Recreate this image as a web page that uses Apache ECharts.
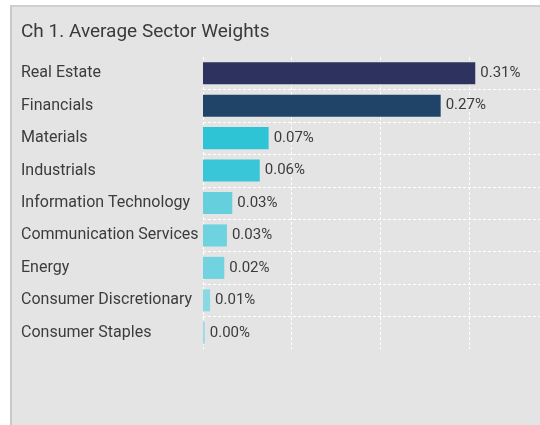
<!DOCTYPE html>
<html>
<head>
    <meta charset="utf-8">
    <title>Average Sector Weights</title>
    <script src="https://cdn.jsdelivr.net/npm/echarts@6/dist/echarts.min.js"></script>
    <style>
        html, body { margin: 0; padding: 0; background: #fff; }
        #panel {
            position: absolute; left: 10px; top: 5px; width: 560px; height: 440px;
            background: #e4e4e4; border-left: 2px solid #c8c8c8; border-top: 2px solid #cfcfcf;
        }
        #main { position: absolute; left: 0; top: 0; width: 540px; height: 425px; }
    </style>
</head>
<body>
    <div id="panel"></div>
    <div id="main"></div>

    <script type="text/javascript">
        var sectors = ['Real Estate', 'Financials', 'Materials', 'Industrials',
            'Information Technology', 'Communication Services', 'Energy',
            'Consumer Discretionary', 'Consumer Staples'];
        var weights = [0.307, 0.268, 0.074, 0.064, 0.033, 0.027, 0.024, 0.008, 0.002];
        var barColors = ['#2d325e', '#1f4468', '#2ec3d5', '#38c6d8', '#66cfde',
            '#6fd2df', '#72d3e0', '#8ad8e4', '#96dbe6'];

        var myChart = echarts.init(document.getElementById('main'));

        myChart.setOption({
            backgroundColor: 'transparent',
            textStyle: { fontFamily: 'Roboto' },
            title: {
                text: 'Ch 1. Average Sector Weights',
                left: 16,
                top: 18,
                textStyle: { fontSize: 19, fontWeight: 'normal', color: '#3a3a3a', fontFamily: 'Roboto' }
            },
            grid: { left: 203, top: 57, bottom: 76, right: 0 },
            xAxis: {
                type: 'value',
                min: 0,
                max: 0.38,
                interval: 0.1,
                axisLine: { show: false },
                axisTick: { show: false },
                axisLabel: { show: false },
                splitLine: {
                    show: true,
                    showMaxLine: false,
                    lineStyle: { color: '#ffffff', type: [3, 2], width: 1 }
                }
            },
            yAxis: {
                type: 'category',
                inverse: true,
                data: sectors,
                axisLine: { show: false },
                axisTick: { show: false },
                axisLabel: {
                    align: 'left',
                    margin: 182,
                    fontSize: 16,
                    color: '#3c3c3c'
                },
                splitLine: {
                    show: true,
                    showMinLine: false,
                    showMaxLine: false,
                    interval: 0,
                    lineStyle: { color: '#ffffff', type: [3, 2], width: 1 }
                }
            },
            series: [{
                type: 'bar',
                barCategoryGap: '32%',
                data: weights.map(function (v, i) {
                    return { value: v, itemStyle: { color: barColors[i] } };
                }),
                label: {
                    show: true,
                    position: 'right',
                    distance: 5,
                    fontSize: 15,
                    color: '#3c3c3c',
                    formatter: function (p) { return p.value.toFixed(2) + '%'; }
                },
                silent: true
            }]
        });
    </script>
</body>
</html>
